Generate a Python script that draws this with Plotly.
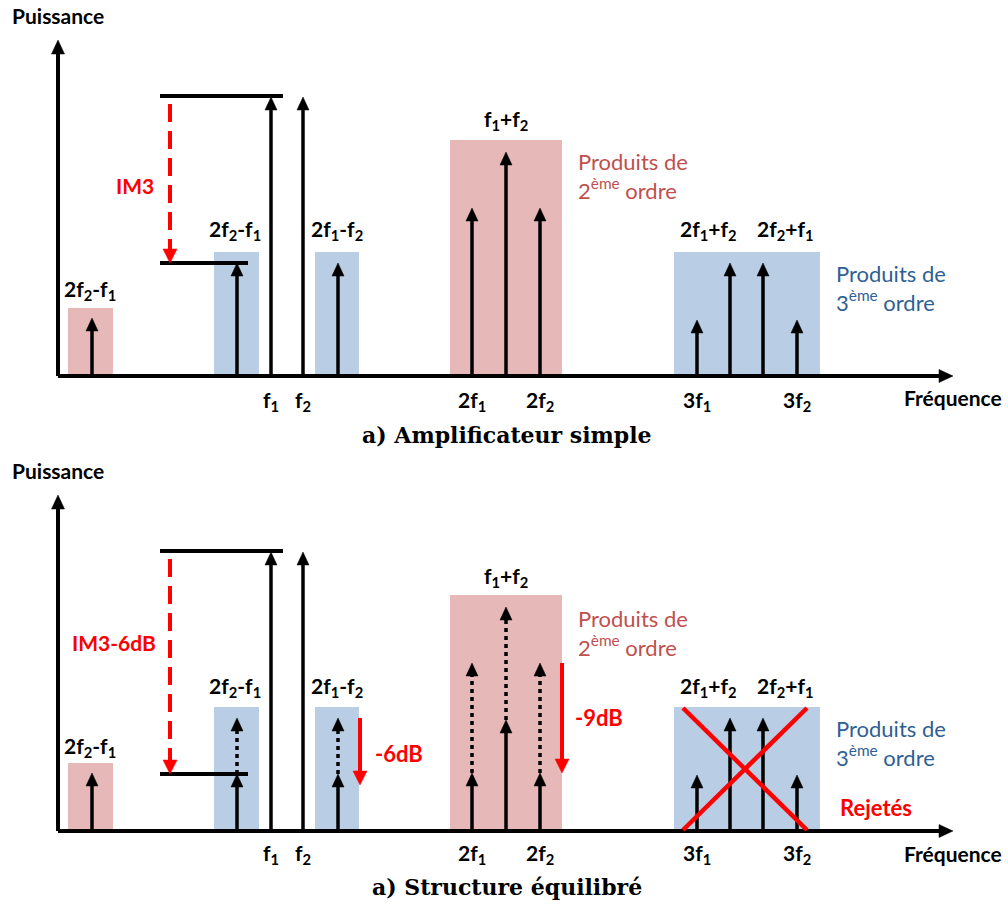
import plotly.graph_objects as go

# ---------------- data (frequency units / power units) ----------------
x_low = [3.4]                       # lone 2nd-order product at left
x_im3 = [17.9, 28.0]                # 2f2-f1, 2f1-f2
x_fund = [21.3, 24.5]               # f1, f2
x_h2 = [41.4, 44.8, 48.2]           # 2f1, f1+f2, 2f2
x_h3 = [63.9, 67.2, 70.5, 73.9]     # 3f1, 2f1+f2, 2f2+f1, 3f2

h_low = [5.8]
h_fund = [27.9, 27.9]
h_im3_simple = [11.3, 11.3]
h_im3_bal = [5.7, 5.7]
h_h2_simple = [16.8, 22.4, 16.8]
h_h2_bal = [5.8, 11.1, 5.8]
h_h3 = [5.6, 11.3, 11.3, 5.6]

box_x0 = [1.0, 15.6, 25.7, 39.2, 61.6]
box_x1 = [5.5, 20.1, 30.1, 50.4, 76.2]
box_h = [6.8, 12.4, 12.4, 23.6, 12.4]
box_kind = ["r", "b", "b", "r", "b"]

ref_line_x = [10.2, 22.5]           # carrier level line
ref_line_low_x = [10.2, 19.0]       # IM3 level line
im3_arrow_x = 11.2
carrier_level = 28.0

tick_x = [21.3, 24.5, 41.4, 48.2, 63.9, 73.9]
tick_labels = ["f<sub>1</sub>", "f<sub>2</sub>", "2f<sub>1</sub>", "2f<sub>2</sub>",
               "3f<sub>1</sub>", "3f<sub>2</sub>"]

cross_x = [62.5, 74.9]
cross_y = [12.3, 0.1]

RED_BOX = "#e6b9b8"
BLUE_BOX = "#b9cde5"
RED_TXT = "#c0504d"
BLUE_TXT = "#2f5f94"
RED = "#ff0000"
LBL_FONT = "Lato"
LBL_SIZE = 21
TXT_SIZE = 22

fig = go.Figure()


def arrows(xs, y_from, y_to, yax, color="black", width=3.5, dash=None,
           hw=1.2, hl=1.3):
    lx, ly, tx, ty = [], [], [], []
    for x, a, b in zip(xs, y_from, y_to):
        s = 1 if b > a else -1
        lx += [x, x, None]
        ly += [a, b - s * hl * 0.8, None]
        tx += [x - hw / 2, x + hw / 2, x, x - hw / 2, None]
        ty += [b - s * hl, b - s * hl, b, b - s * hl, None]
    fig.add_trace(go.Scatter(x=lx, y=ly, yaxis=yax, mode="lines",
                             line=dict(color=color, width=width, dash=dash),
                             hoverinfo="skip", showlegend=False))
    fig.add_trace(go.Scatter(x=tx, y=ty, yaxis=yax, mode="lines", fill="toself",
                             fillcolor=color, line=dict(color=color, width=0.5),
                             hoverinfo="skip", showlegend=False))


def hline(xr, y, yax, color="black", width=4, dash=None):
    fig.add_trace(go.Scatter(x=xr, y=[y, y], yaxis=yax, mode="lines",
                             line=dict(color=color, width=width, dash=dash),
                             hoverinfo="skip", showlegend=False))


def label(text, x, y, yref, size=LBL_SIZE, color="black", xanchor="center",
          weight="bold", family=LBL_FONT, align="center"):
    fig.add_annotation(text=text, x=x, y=y, xref="x", yref=yref, showarrow=False,
                       xanchor=xanchor, yanchor="middle", align=align,
                       font=dict(family=family, size=size, color=color, weight=weight))


panels = [("y", "y", False), ("y2", "y2", True)]

for yax, yref, balanced in panels:
    # coloured boxes
    for x0, x1, h, k in zip(box_x0, box_x1, box_h, box_kind):
        fig.add_shape(type="rect", x0=x0, x1=x1, y0=0, y1=h, xref="x", yref=yref,
                      fillcolor=RED_BOX if k == "r" else BLUE_BOX,
                      line=dict(width=0), layer="below")

    # axes
    arrows([0], [0], [33.6], yax, width=4, hw=1.3, hl=1.4)
    fig.add_trace(go.Scatter(x=[0, 89.5 - 1.1], y=[0, 0], yaxis=yax, mode="lines",
                             line=dict(color="black", width=4),
                             hoverinfo="skip", showlegend=False))
    fig.add_trace(go.Scatter(x=[89.5 - 1.4, 89.5 - 1.4, 89.5, 89.5 - 1.4],
                             y=[-0.65, 0.65, 0, -0.65], yaxis=yax, mode="lines",
                             fill="toself", fillcolor="black",
                             line=dict(color="black", width=0.5),
                             hoverinfo="skip", showlegend=False))

    # reference levels
    hline(ref_line_x, carrier_level, yax)
    im3_level = h_im3_bal[0] if balanced else h_im3_simple[0]
    hline(ref_line_low_x, im3_level, yax)

    # spectral lines
    arrows(x_low, [0], h_low, yax)
    arrows(x_fund, [0, 0], h_fund, yax)
    arrows(x_h3, [0] * 4, h_h3, yax)
    if not balanced:
        arrows(x_im3, [0, 0], h_im3_simple, yax)
        arrows(x_h2, [0] * 3, h_h2_simple, yax)
    else:
        arrows(x_im3, [0, 0], h_im3_bal, yax)
        arrows(x_im3, h_im3_bal, h_im3_simple, yax, dash="4px,4px")
        arrows(x_h2, [0] * 3, h_h2_bal, yax)
        arrows(x_h2, h_h2_bal, h_h2_simple, yax, dash="4px,4px")

    # IM3 dashed red arrow
    arrows([im3_arrow_x], [carrier_level - 0.8], [im3_level], yax, color=RED,
           width=4, dash="18px,9px", hw=1.4, hl=1.4)

    # labels
    off = -0.2 if balanced else 0.0
    label("Puissance", -4.8, 36.1, yref, size=21, xanchor="left")
    label("2f<sub>2</sub>-f<sub>1</sub>", 3.2, 8.6 + off, yref)
    label("2f<sub>2</sub>-f<sub>1</sub>", 17.7, 14.6 + off, yref)
    label("2f<sub>1</sub>-f<sub>2</sub>", 27.9, 14.6 + off, yref)
    label("f<sub>1</sub>+f<sub>2</sub>", 44.8, 25.6 + off, yref)
    label("2f<sub>1</sub>+f<sub>2</sub>", 65.0, 14.6 + off, yref)
    label("2f<sub>2</sub>+f<sub>1</sub>", 72.7, 14.6 + off, yref)
    label("Produits de<br>2<sup>ème</sup> ordre", 51.8, 20.0 + off, yref, size=TXT_SIZE,
          color=RED_TXT, xanchor="left", weight="normal", align="left")
    label("Produits de<br>3<sup>ème</sup> ordre", 77.6, 8.85, yref, size=TXT_SIZE,
          color=BLUE_TXT, xanchor="left", weight="normal", align="left")
    for tx, tl in zip(tick_x, tick_labels):
        label(tl, tx, -2.5 + (0.2 if balanced else 0), yref)
    label("Fréquence", 84.4, -2.1 + (0.0 if not balanced else -0.1), yref, size=21,
          xanchor="left")

    if not balanced:
        label("IM3", 7.7, 19.1, yref, size=21, color=RED)
        label("a) Amplificateur simple", 44.9, -5.9, yref, size=22,
              family="DejaVu Serif")
    else:
        label("IM3-6dB", 5.6, 18.9, yref, size=21, color=RED)
        arrows([30.2], [11.3], [4.6], yax, color=RED, width=4, hw=1.4, hl=1.4)
        label("-6dB", 31.5, 7.8, yref, size=TXT_SIZE, color=RED, xanchor="left")
        arrows([50.4], [16.8], [5.8], yax, color=RED, width=4, hw=1.4, hl=1.4)
        label("-9dB", 51.5, 11.4, yref, size=TXT_SIZE, color=RED, xanchor="left")
        fig.add_trace(go.Scatter(x=cross_x, y=cross_y, yaxis=yax, mode="lines",
                                 line=dict(color=RED, width=4.5),
                                 hoverinfo="skip", showlegend=False))
        fig.add_trace(go.Scatter(x=cross_x, y=cross_y[::-1], yaxis=yax, mode="lines",
                                 line=dict(color=RED, width=4.5),
                                 hoverinfo="skip", showlegend=False))
        label("Rejetés", 78.0, 2.4, yref, size=TXT_SIZE, color=RED, xanchor="left")
        label("a) Structure équilibré", 44.9, -5.6, yref, size=22,
              family="DejaVu Serif")

fig.update_layout(
    width=1008, height=906,
    margin=dict(l=0, r=0, t=0, b=0),
    paper_bgcolor="white", plot_bgcolor="white",
    showlegend=False,
    xaxis=dict(range=[-5.8, 95.0], visible=False, fixedrange=True),
    yaxis=dict(range=[-7.7, 37.6], domain=[0.5, 1.0], visible=False, anchor="x"),
    yaxis2=dict(range=[-7.5, 37.8], domain=[0.0, 0.5], visible=False, anchor="x"),
)

fig.write_html("out.html",
               config={"displayModeBar": False},
               post_script="document.body.style.margin='0px';"
                           "document.body.style.overflow='hidden';")
